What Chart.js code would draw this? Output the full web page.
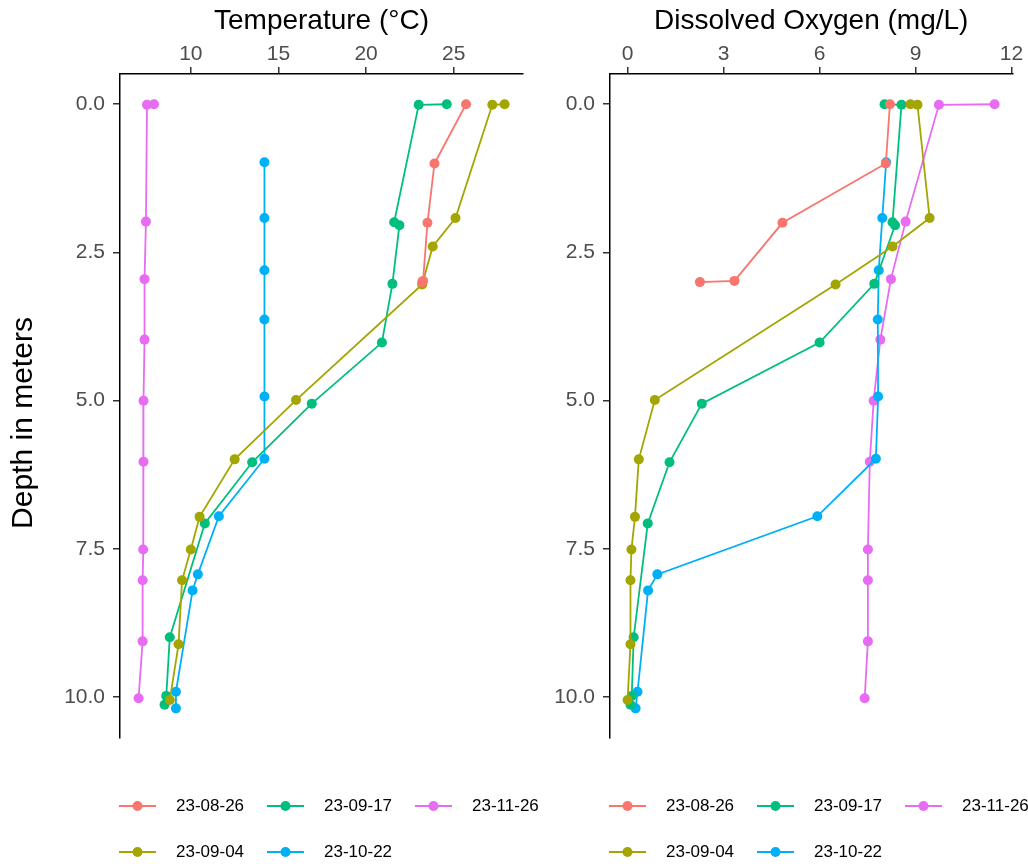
<!DOCTYPE html>
<html>
<head>
<meta charset="utf-8">
<script src="https://cdn.jsdelivr.net/npm/chart.js@4/dist/chart.umd.min.js"></script>
<style>
  body { margin: 0; background: #fff; }
  #wrap { position: relative; width: 1028px; height: 867px; overflow: hidden; }
  canvas { position: absolute; top: 0; }
</style>
</head>
<body>
<div id="wrap">
  <canvas id="tempChart" width="540" height="867" style="left:0px"></canvas>
  <canvas id="oxyChart" width="488" height="867" style="left:540px"></canvas>
</div>
<script>
// sampling dates and ggplot hue colours
const dates = ['23-08-26', '23-09-04', '23-09-17', '23-10-22', '23-11-26'];
const colours = ['#F8766D', '#A3A500', '#00BF7D', '#00B0F6', '#E76BF3'];

// depth (m) of each reading, per date
const depthAug26 = [0, 1.0, 2.0, 2.98, 3.0];
const depthSep04 = [0, 0.01, 1.92, 2.4, 3.04, 4.99, 5.99, 6.96, 7.51, 8.03, 9.11, 10.05];
const depthSep17 = [0, 0.01, 1.99, 2.04, 3.03, 4.02, 5.05, 6.04, 7.07, 8.99, 9.98, 10.13];
const depthOct22 = [0.98, 1.92, 2.8, 3.63, 4.93, 5.98, 6.95, 7.93, 8.2, 9.91, 10.19];
const depthNov26 = [0, 0.01, 1.98, 2.95, 3.97, 5.0, 6.03, 7.51, 8.03, 9.06, 10.02];

// temperature (°C)
const tempAug26 = [25.7, 23.9, 23.5, 23.25, 23.2];
const tempSep04 = [27.9, 27.2, 25.1, 23.8, 23.2, 16.0, 12.5, 10.5, 10.0, 9.5, 9.3, 8.8];
const tempSep17 = [24.6, 23.0, 21.6, 21.9, 21.5, 20.9, 16.9, 13.5, 10.8, 8.8, 8.6, 8.5];
const tempOct22 = [14.2, 14.2, 14.2, 14.2, 14.2, 14.2, 11.6, 10.4, 10.1, 9.15, 9.15];
const tempNov26 = [7.9, 7.5, 7.44, 7.36, 7.36, 7.3, 7.3, 7.28, 7.25, 7.25, 7.02];

// dissolved oxygen (mg/L)
const oxyAug26 = [8.2, 8.07, 4.84, 3.34, 2.26];
const oxySep04 = [8.84, 9.06, 9.44, 8.28, 6.5, 0.85, 0.35, 0.23, 0.12, 0.09, 0.09, 0.0];
const oxySep17 = [8.03, 8.56, 8.28, 8.36, 7.71, 6.0, 2.32, 1.31, 0.63, 0.19, 0.13, 0.09];
const oxyOct22 = [8.08, 7.96, 7.85, 7.82, 7.83, 7.76, 5.93, 0.93, 0.64, 0.31, 0.25];
const oxyNov26 = [11.47, 9.73, 8.69, 8.23, 7.9, 7.69, 7.57, 7.51, 7.51, 7.51, 7.41];

const tempTicks = [10, 15, 20, 25];
const oxyTicks = [0, 3, 6, 9, 12];
const depthTicks = [0, 2.5, 5, 7.5, 10];

const depths = [depthAug26, depthSep04, depthSep17, depthOct22, depthNov26];
const temps = [tempAug26, tempSep04, tempSep17, tempOct22, tempNov26];
const oxys = [oxyAug26, oxySep04, oxySep17, oxyOct22, oxyNov26];

Chart.defaults.font.family = '"Liberation Sans", Arial, sans-serif';
Chart.defaults.animation = false;

// ggplot-style legend: 2 rows, filled by column, clipped at the canvas edge
const gridLegend = {
  id: 'gridLegend',
  afterDraw(chart) {
    const ctx = chart.ctx;
    const x0 = chart.chartArea.left - 1;
    ctx.save();
    chart.data.datasets.forEach((ds, i) => {
      const x = x0 + Math.floor(i / 2) * 148;
      const y = 806 + (i % 2) * 46;
      ctx.strokeStyle = ds.borderColor;
      ctx.lineWidth = 2;
      ctx.beginPath();
      ctx.moveTo(x, y);
      ctx.lineTo(x + 37, y);
      ctx.stroke();
      ctx.fillStyle = ds.borderColor;
      ctx.beginPath();
      ctx.arc(x + 18.5, y, 5, 0, Math.PI * 2);
      ctx.fill();
      ctx.fillStyle = '#000';
      ctx.font = '17px "Liberation Sans", Arial, sans-serif';
      ctx.textBaseline = 'middle';
      ctx.fillText(ds.label, x + 57, y);
    });
    ctx.restore();
  }
};

const depthTitle = {
  id: 'depthTitle',
  afterDraw(chart) {
    const ctx = chart.ctx;
    ctx.save();
    ctx.translate(24, 423);
    ctx.rotate(-Math.PI / 2);
    ctx.fillStyle = '#000';
    ctx.font = '30px "Liberation Sans", Arial, sans-serif';
    ctx.textAlign = 'center';
    ctx.textBaseline = 'middle';
    ctx.fillText('Depth in meters', 0, 0);
    ctx.restore();
  }
};

function makePanel(id, values, xTicks, xTitle, xMin, xMax, yWidth, rightPad, extraPlugins) {
  const datasets = dates.map((d, i) => ({
    label: d,
    data: depths[i].map((dep, j) => ({ x: values[i][j], y: dep })),
    borderColor: colours[i],
    backgroundColor: colours[i],
    pointBackgroundColor: colours[i],
    pointBorderWidth: 0,
    pointRadius: 5,
    borderWidth: 1.8,
    showLine: true,
    tension: 0
  }));

  return new Chart(document.getElementById(id), {
    type: 'scatter',
    data: { datasets },
    plugins: [gridLegend].concat(extraPlugins),
    options: {
      responsive: false,
      layout: { padding: { left: 0, top: 0, right: rightPad, bottom: 129 } },
      plugins: { legend: { display: false }, tooltip: { enabled: false } },
      scales: {
        x: {
          type: 'linear',
          position: 'top',
          min: xMin,
          max: xMax,
          afterBuildTicks: s => { s.ticks = xTicks.map(v => ({ value: v })); },
          afterFit: s => { s.height = 74; },
          ticks: { color: '#4D4D4D', font: { size: 21 }, padding: 0, autoSkip: false, maxRotation: 0,
                   callback: v => String(v) },
          grid: { display: true, drawOnChartArea: false, tickLength: 7, color: '#333', lineWidth: 1.5 },
          border: { display: true, color: '#000', width: 1.5 },
          title: { display: true, text: xTitle, color: '#000', font: { size: 28 }, padding: { top: 4, bottom: 0 } }
        },
        y: {
          type: 'linear',
          reverse: true,
          min: -0.51,
          max: 10.69,
          afterBuildTicks: s => { s.ticks = depthTicks.map(v => ({ value: v })); },
          afterFit: s => { s.width = yWidth; },
          ticks: { color: '#4D4D4D', font: { size: 21 }, padding: 8, autoSkip: false,
                   callback: v => v.toFixed(1) },
          grid: { display: true, drawOnChartArea: false, tickLength: 7, color: '#333', lineWidth: 1.5 },
          border: { display: true, color: '#000', width: 1.5 }
        }
      }
    }
  });
}

makePanel('tempChart', temps, tempTicks, 'Temperature (°C)', 5.96, 28.95, 120, 17, [depthTitle]);
makePanel('oxyChart', oxys, oxyTicks, 'Dissolved Oxygen (mg/L)', -0.55, 12.03, 70, 15.5, []);
</script>
</body>
</html>
